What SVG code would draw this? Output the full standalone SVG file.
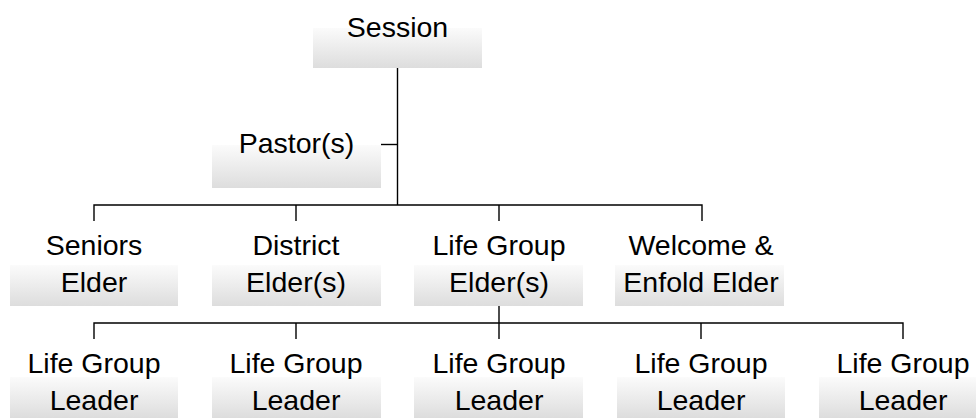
<svg xmlns="http://www.w3.org/2000/svg" width="976" height="418" viewBox="0 0 976 418">
<defs>
<linearGradient id="g" x1="0" y1="0" x2="0" y2="1">
<stop offset="0" stop-color="#fbfbfb"/>
<stop offset="1" stop-color="#dddddd"/>
</linearGradient>
<style>
.box{fill:url(#g);stroke:none}
.t{font-family:"Liberation Sans",Arial,sans-serif;font-size:28.5px;fill:#000;text-anchor:middle}
.c{stroke:#000;stroke-width:1.4;fill:none}
</style>
</defs>
<rect width="976" height="418" fill="#fff"/>
<g id="connectors">
<path class="c" d="M397.5 68V205"/>
<path class="c" d="M381 144.5H397.5"/>
<path class="c" d="M94 221V205H702V221M296 205V221M499 205V221"/>
<path class="c" d="M499 306V323"/>
<path class="c" d="M94 339V323H903V339M296 323V339M499 323V339M701 323V339"/>
</g>
<g id="session"><rect class="box" x="313" y="28" width="169" height="40"/><text class="t" x="397.5" y="37">Session</text></g>
<g id="pastor"><rect class="box" x="212" y="145" width="169" height="43"/><text class="t" x="296.5" y="153">Pastor(s)</text></g>
<g id="seniors"><rect class="box" x="10" y="265" width="168" height="41"/><text class="t" x="94" y="255">Seniors</text><text class="t" x="94" y="292">Elder</text></g>
<g id="district"><rect class="box" x="212" y="265" width="169" height="41"/><text class="t" x="296" y="255">District</text><text class="t" x="296" y="292">Elder(s)</text></g>
<g id="lgelder"><rect class="box" x="414" y="265" width="169" height="41"/><text class="t" x="499" y="255">Life Group</text><text class="t" x="499" y="292">Elder(s)</text></g>
<g id="welcome"><rect class="box" x="615" y="265" width="169" height="41"/><text class="t" x="701" y="255">Welcome &amp;</text><text class="t" x="701" y="292">Enfold Elder</text></g>
<g id="leader1"><rect class="box" x="10" y="377" width="168" height="41"/><text class="t" x="94" y="373">Life Group</text><text class="t" x="94" y="410">Leader</text></g>
<g id="leader2"><rect class="box" x="212" y="377" width="169" height="41"/><text class="t" x="296" y="373">Life Group</text><text class="t" x="296" y="410">Leader</text></g>
<g id="leader3"><rect class="box" x="414" y="377" width="169" height="41"/><text class="t" x="499" y="373">Life Group</text><text class="t" x="499" y="410">Leader</text></g>
<g id="leader4"><rect class="box" x="617" y="377" width="168" height="41"/><text class="t" x="701" y="373">Life Group</text><text class="t" x="701" y="410">Leader</text></g>
<g id="leader5"><rect class="box" x="819" y="377" width="169" height="41"/><text class="t" x="903" y="373">Life Group</text><text class="t" x="903" y="410">Leader</text></g>
</svg>
